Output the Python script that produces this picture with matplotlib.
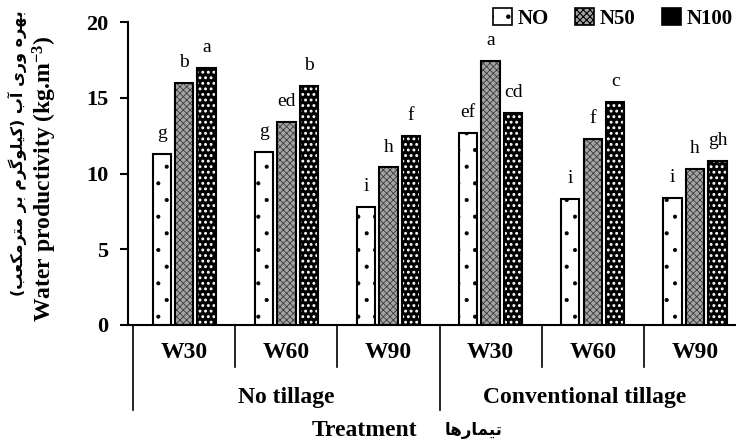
import numpy as np
import matplotlib
matplotlib.use("Agg")
import matplotlib.pyplot as plt
from matplotlib.patches import Patch
from matplotlib.transforms import blended_transform_factory

### DATA ###
categories = ['W30', 'W60', 'W90', 'W30', 'W60', 'W90']
groups = ['No tillage', 'Conventional tillage']
series = ['NO', 'N50', 'N100']
no_vals = [11.3, 11.4, 7.8, 12.7, 8.3, 8.4]
n50_vals = [15.95, 13.4, 10.4, 17.4, 12.3, 10.3]
n100_vals = [16.95, 15.75, 12.45, 14.0, 14.7, 10.85]
no_letters = ['g', 'g', 'i', 'ef', 'i', 'i']
n50_letters = ['b', 'ed', 'h', 'a', 'f', 'h']
n100_letters = ['a', 'b', 'f', 'cd', 'c', 'gh']

ylabel_fa = 'بهره وری آب (کیلوگرم بر مترمکعب)'
ylabel_en = r'Water productivity (kg.m$^{-3}$)'
xlabel_en = 'Treatment'
xlabel_fa = 'تیمارها'

# tiny persian shaper (matplotlib does no arabic shaping / bidi)
forms = {
    'ا': ('\uFE8D', '\uFE8E', None, None),
    'آ': ('\uFE81', '\uFE82', None, None),
    'ب': ('\uFE8F', '\uFE90', '\uFE91', '\uFE92'),
    'ت': ('\uFE95', '\uFE96', '\uFE97', '\uFE98'),
    'ر': ('\uFEAD', '\uFEAE', None, None),
    'ع': ('\uFEC9', '\uFECA', '\uFECB', '\uFECC'),
    'ک': ('\uFB8E', '\uFB8F', '\uFB90', '\uFB91'),
    'گ': ('\uFB92', '\uFB93', '\uFB94', '\uFB95'),
    'ل': ('\uFEDD', '\uFEDE', '\uFEDF', '\uFEE0'),
    'م': ('\uFEE1', '\uFEE2', '\uFEE3', '\uFEE4'),
    'ه': ('\uFEE9', '\uFEEA', '\uFEEB', '\uFEEC'),
    'و': ('\uFEED', '\uFEEE', None, None),
    'ی': ('\uFBFC', '\uFBFD', '\uFBFE', '\uFBFF'),
}

def shape(s):
    out = []
    for i, c in enumerate(s):
        if c not in forms:
            out.append(c)
            continue
        prev = s[i - 1] if i > 0 else ''
        nxt = s[i + 1] if i + 1 < len(s) else ''
        jp = prev in forms and forms[prev][2] is not None
        jn = forms[c][2] is not None and nxt in forms
        f = forms[c]
        if jp and jn:
            out.append(f[3])
        elif jp:
            out.append(f[1])
        elif jn:
            out.append(f[2])
        else:
            out.append(f[0])
    vis = ''.join(reversed(out))
    return vis.translate(str.maketrans('()', ')('))

serif = 'Liberation Serif'
plt.rcParams['hatch.linewidth'] = 0.8
plt.rcParams['mathtext.fontset'] = 'custom'
plt.rcParams['mathtext.rm'] = 'Liberation Serif:bold'
plt.rcParams['mathtext.default'] = 'rm'

fig = plt.figure(figsize=(7.36, 4.41), dpi=100)
ax = fig.add_axes([128 / 736, 116 / 441, 618 / 736, 303 / 441])

x = np.arange(len(categories)) + 0.5
w = 0.18
offs = [-0.22, 0.0, 0.22]
styles = [
    dict(color='white', hatch='.', edgecolor='black'),
    dict(color='#a4a4a4', hatch='xxxxx', edgecolor='#3a3a3a'),
    dict(color='black', hatch='...', edgecolor='white'),
]
hatch_lw = [0.5, 0.6, 1.3]
all_vals = [no_vals, n50_vals, n100_vals]
all_letters = [no_letters, n50_letters, n100_letters]

for vals, letters, off, st, hl in zip(all_vals, all_letters, offs, styles, hatch_lw):
    bars = ax.bar(x + off, vals, w, linewidth=0, **st)
    for p in bars:
        if hasattr(p, 'set_hatch_linewidth'):
            p.set_hatch_linewidth(hl)
    ax.bar(x + off, vals, w, fill=False, edgecolor='black', linewidth=1.5)
    for xi, v, l in zip(x + off, vals, letters):
        ax.text(xi, v + 1.05, l, ha='center', va='baseline', family=serif, fontsize=14)

ax.set_xlim(-0.05, 6)
ax.set_ylim(0, 20)
ax.set_yticks([0, 5, 10, 15, 20])
ax.set_xticks([])
ax.spines['top'].set_visible(False)
ax.spines['right'].set_visible(False)
ax.spines['left'].set_linewidth(1.5)
ax.spines['bottom'].set_linewidth(1.5)
ax.tick_params(axis='y', direction='out', length=6, width=1.5, pad=8)
for t in ax.get_yticklabels():
    t.set_family(serif)
    t.set_fontweight('bold')
    t.set_fontsize(16)

# category separators and labels below the axis
tr = blended_transform_factory(ax.transData, ax.transAxes)
for b in range(7):
    depth = 0.281 if b % 3 == 0 else 0.139
    ax.plot([b, b], [0, -depth], color='black', lw=1.2, transform=tr, clip_on=False)
for xi, c in zip(x, categories):
    ax.text(xi, -0.092, c, transform=tr, ha='center', va='center',
            family=serif, fontweight='bold', fontsize=17)
for gi, g in enumerate(groups):
    ax.text(gi * 3 + 1.5 - 0.08 * gi, -0.238, g, transform=tr, ha='center', va='center',
            family=serif, fontweight='bold', fontsize=17)

fig.text(312 / 736, 1 - 430 / 441, xlabel_en, ha='left', va='center',
         family=serif, fontweight='bold', fontsize=17)
fig.text(445 / 736, 1 - 430 / 441, shape(xlabel_fa), ha='left', va='center',
         family=['DejaVu Sans'], fontweight='bold', fontsize=12)

fig.text(45 / 736, 1 - 179 / 441, ylabel_en, rotation=90, ha='center', va='center',
         family=serif, fontweight='bold', fontsize=17)
fig.text(17 / 736, 1 - 153 / 441, shape(ylabel_fa), rotation=90, ha='center', va='center',
         family=['DejaVu Sans'], fontweight='bold', fontsize=11.5)

handles = [Patch(facecolor=st['color'], hatch=st['hatch'], edgecolor='black', linewidth=1.2)
           for st in styles]
leg = fig.legend(handles, series, loc='upper left', bbox_to_anchor=(474 / 736, 1.025), ncol=3,
                 frameon=False, handlelength=0.9, handleheight=0.9, handletextpad=0.3,
                 columnspacing=1.25, prop={'family': serif, 'weight': 'bold', 'size': 15})

fig.savefig('out.png', dpi=100)
